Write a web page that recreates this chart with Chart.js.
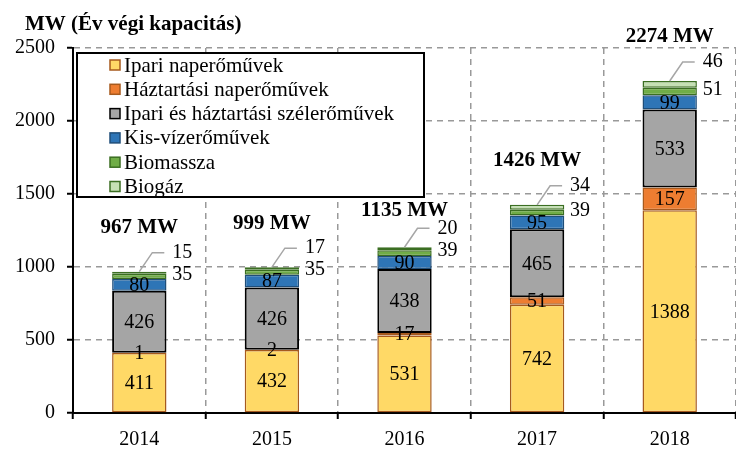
<!DOCTYPE html>
<html lang="hu">
<head>
<meta charset="UTF-8">
<title>MW (Év végi kapacitás)</title>
<script src="https://cdn.jsdelivr.net/npm/chart.js@4.4.0/dist/chart.umd.min.js"></script>
<style>
  html, body { margin: 0; padding: 0; background: #fff; }
  .probe { position: absolute; left: -999px; top: 0; font-family: 'Liberation Serif'; }
</style>
</head>
<body>
<span class="probe">MW Év végi <b>MW</b></span>
<canvas id="chart" width="736" height="449"></canvas>
<script>
const years = ['2014', '2015', '2016', '2017', '2018'];
const ipariNap = [411, 432, 531, 742, 1388];
const haztartasiNap = [1, 2, 17, 51, 157];
const szel = [426, 426, 438, 465, 533];
const kisViz = [80, 87, 90, 95, 99];
const biomassza = [35, 35, 39, 39, 51];
const biogaz = [15, 17, 20, 34, 46];
const totals = [967, 999, 1135, 1426, 2274];
const yMax = 2500;
const yStep = 500;

const serif = "'Liberation Serif', 'DejaVu Serif', serif";

// legend box drawn over the plot, like the original
function legendBox(chart) {
  const a = chart.chartArea;
  return { x: a.left + 4, y: a.top + 5, w: 347, h: 144 };
}

const extras = {
  id: 'extras',
  afterDatasetsDraw(chart) {
    const ctx = chart.ctx;
    const sets = chart.data.datasets;
    ctx.save();
    ctx.font = '20px ' + serif;
    ctx.fillStyle = '#000';
    ctx.textBaseline = 'middle';

    // values
    sets.forEach((ds, di) => {
      const meta = chart.getDatasetMeta(di);
      meta.data.forEach((bar, i) => {
        const v = ds.data[i];
        const mid = (bar.y + bar.base) / 2;
        if (di < 4) {
          ctx.textAlign = 'center';
          ctx.fillText(v, bar.x, mid + 1);
        } else if (di === 4) {
          ctx.textAlign = 'left';
          ctx.fillText(v, bar.x + 33, mid - 2);
        } else {
          const ly = bar.y - 19;
          ctx.strokeStyle = '#a6a6a6';
          ctx.lineWidth = 1.5;
          ctx.beginPath();
          ctx.moveTo(bar.x, bar.y);
          ctx.lineTo(bar.x + 13, ly);
          ctx.lineTo(bar.x + 25, ly);
          ctx.stroke();
          ctx.textAlign = 'left';
          ctx.fillText(v, bar.x + 33, ly);
        }
      });
    });

    // legend
    const lb = legendBox(chart);
    ctx.fillStyle = '#fff';
    ctx.fillRect(lb.x, lb.y, lb.w, lb.h);
    ctx.strokeStyle = '#000';
    ctx.lineWidth = 2;
    ctx.strokeRect(lb.x, lb.y, lb.w, lb.h);
    ctx.textAlign = 'left';
    ctx.font = '21px ' + serif;
    sets.forEach((ds, di) => {
      const cy = lb.y + 12 + di * 24.3;
      ctx.fillStyle = ds.backgroundColor;
      ctx.fillRect(lb.x + 33, cy - 5, 10, 10);
      ctx.strokeStyle = ds.borderColor;
      ctx.lineWidth = 1.5;
      ctx.strokeRect(lb.x + 33, cy - 5, 10, 10);
      ctx.fillStyle = '#000';
      ctx.fillText(ds.label, lb.x + 47, cy + 1);
    });

    // totals
    ctx.font = 'bold 21px ' + serif;
    ctx.textAlign = 'center';
    const top = chart.getDatasetMeta(sets.length - 1);
    top.data.forEach((bar, i) => {
      const txt = totals[i] + ' MW';
      let y = bar.y - 44;
      const w = ctx.measureText(txt).width;
      if (bar.x - w / 2 < lb.x + lb.w && y - 10 < lb.y + lb.h) {
        y = lb.y + lb.h + 14;
      }
      ctx.fillText(txt, bar.x, y);
    });

    // title
    ctx.font = 'bold 21px ' + serif;
    ctx.textAlign = 'left';
    ctx.textBaseline = 'alphabetic';
    ctx.fillText('MW (Év végi kapacitás)', 25, 30);
    ctx.restore();
  }
};

function makeSet(label, data, bg, border, width) {
  return {
    label: label,
    data: data,
    backgroundColor: bg,
    borderColor: border,
    borderWidth: width,
    borderSkipped: false
  };
}

function drawChart() {
  const ctx = document.getElementById('chart').getContext('2d');
  new Chart(ctx, {
    type: 'bar',
    data: {
      labels: years,
      datasets: [
        makeSet('Ipari naperőművek', ipariNap, '#FFD966', '#A65A1E', 1.5),
        makeSet('Háztartási naperőművek', haztartasiNap, '#ED7D31', '#A65A1E', 1.5),
        makeSet('Ipari és háztartási szélerőművek', szel, '#A5A5A5', '#000000', 2),
        makeSet('Kis-vízerőművek', kisViz, '#2E75B6', '#1F4E79', 1.5),
        makeSet('Biomassza', biomassza, '#70AD47', '#3B6E22', 1.5),
        makeSet('Biogáz', biogaz, '#C5E0B4', '#3B6E22', 1.5)
      ]
    },
    options: {
      responsive: false,
      animation: false,
      devicePixelRatio: 1,
      layout: { padding: { top: 48, right: 0, left: 0, bottom: 0 } },
      categoryPercentage: 1,
      barPercentage: 0.41,
      plugins: {
        legend: { display: false },
        title: { display: false },
        tooltip: { enabled: false }
      },
      scales: {
        x: {
          stacked: true,
          afterFit: s => { s.height = 36; },
          grid: {
            offset: true,
            color: '#999',
            lineWidth: 1.5,
            drawTicks: true,
            tickLength: 6,
            tickColor: '#000',
            tickWidth: 2,
            tickBorderDash: []
          },
          border: { color: '#000', width: 2, dash: [6, 5] },
          ticks: {
            color: '#000',
            padding: 9,
            font: { family: serif, size: 20 }
          }
        },
        y: {
          stacked: true,
          min: 0,
          max: yMax,
          afterFit: s => { s.width = 73; },
          grid: {
            color: '#999',
            lineWidth: 1.5,
            drawTicks: true,
            tickLength: 6,
            tickColor: '#000',
            tickWidth: 2,
            tickBorderDash: []
          },
          border: { color: '#000', width: 2, dash: [6, 5] },
          ticks: {
            stepSize: yStep,
            color: '#000',
            padding: 12,
            font: { family: serif, size: 20 },
            callback: v => String(v)
          }
        }
      }
    },
    plugins: [extras]
  });
}

Promise.all([
  document.fonts.load("20px 'Liberation Serif'"),
  document.fonts.load("bold 20px 'Liberation Serif'")
]).then(drawChart, drawChart);
</script>
</body>
</html>
